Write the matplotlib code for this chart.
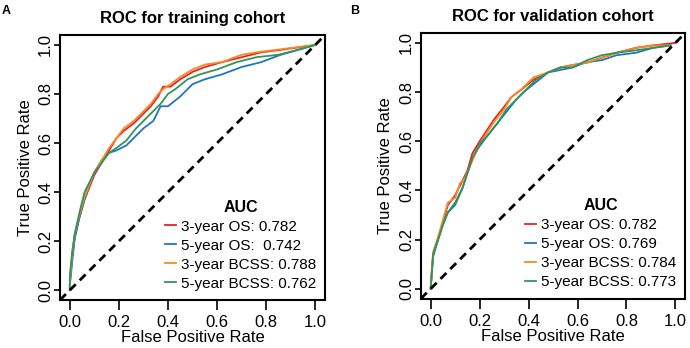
import matplotlib
matplotlib.use("Agg")
import matplotlib.pyplot as plt

plt.rcParams['font.family'] = ['Liberation Sans', 'DejaVu Sans']

# ---- data ----
colors = ["#EE1D23", "#1F75C0", "#F28C28", "#2F9656"]

# panel A: training cohort
a_labels = ["3-year OS: 0.782", "5-year OS:  0.742", "3-year BCSS: 0.788", "5-year BCSS: 0.762"]
a_fpr = [
    [0, 0.0, 0.01, 0.02, 0.04, 0.06, 0.08, 0.10, 0.13, 0.16, 0.19, 0.22, 0.26, 0.30, 0.33, 0.36, 0.38, 0.41, 0.45, 0.50, 0.55, 0.62, 0.70, 0.78, 0.86, 0.93, 1.0],
    [0, 0.0, 0.01, 0.02, 0.04, 0.06, 0.08, 0.10, 0.13, 0.16, 0.19, 0.23, 0.27, 0.30, 0.34, 0.37, 0.40, 0.45, 0.50, 0.55, 0.62, 0.70, 0.78, 0.86, 0.93, 1.0],
    [0, 0.0, 0.01, 0.02, 0.04, 0.06, 0.08, 0.10, 0.13, 0.16, 0.19, 0.22, 0.26, 0.30, 0.33, 0.36, 0.38, 0.41, 0.45, 0.50, 0.55, 0.62, 0.70, 0.76, 0.84, 0.92, 1.0],
    [0, 0.0, 0.01, 0.02, 0.04, 0.06, 0.08, 0.10, 0.13, 0.16, 0.19, 0.23, 0.27, 0.30, 0.34, 0.37, 0.40, 0.43, 0.48, 0.53, 0.60, 0.68, 0.76, 0.85, 0.93, 1.0],
]
a_tpr = [
    [0, 0.03, 0.14, 0.22, 0.30, 0.37, 0.42, 0.47, 0.52, 0.57, 0.62, 0.65, 0.68, 0.72, 0.75, 0.79, 0.83, 0.83, 0.86, 0.89, 0.91, 0.93, 0.95, 0.97, 0.98, 0.99, 1.0],
    [0, 0.02, 0.12, 0.21, 0.30, 0.37, 0.43, 0.48, 0.53, 0.56, 0.57, 0.59, 0.63, 0.66, 0.69, 0.75, 0.75, 0.79, 0.84, 0.86, 0.88, 0.91, 0.93, 0.96, 0.98, 1.0],
    [0, 0.04, 0.15, 0.23, 0.31, 0.38, 0.43, 0.48, 0.53, 0.58, 0.62, 0.66, 0.69, 0.73, 0.76, 0.80, 0.82, 0.84, 0.87, 0.90, 0.92, 0.93, 0.96, 0.97, 0.98, 0.99, 1.0],
    [0, 0.06, 0.16, 0.23, 0.32, 0.40, 0.44, 0.48, 0.52, 0.56, 0.58, 0.61, 0.66, 0.69, 0.73, 0.76, 0.80, 0.82, 0.86, 0.88, 0.90, 0.93, 0.95, 0.96, 0.98, 1.0],
]

# panel B: validation cohort
b_labels = ["3-year OS: 0.782", "5-year OS: 0.769", "3-year BCSS: 0.784", "5-year BCSS: 0.773"]
b_fpr = [
    [0, 0.005, 0.01, 0.03, 0.05, 0.07, 0.10, 0.13, 0.15, 0.17, 0.20, 0.22, 0.26, 0.30, 0.33, 0.37, 0.42, 0.48, 0.53, 0.58, 0.64, 0.70, 0.76, 0.84, 0.91, 1.0],
    [0, 0.005, 0.01, 0.03, 0.05, 0.07, 0.10, 0.13, 0.15, 0.17, 0.20, 0.23, 0.27, 0.31, 0.35, 0.38, 0.43, 0.48, 0.53, 0.58, 0.63, 0.70, 0.76, 0.84, 0.91, 0.98],
    [0, 0.005, 0.01, 0.03, 0.05, 0.07, 0.10, 0.12, 0.14, 0.17, 0.20, 0.22, 0.26, 0.30, 0.33, 0.37, 0.42, 0.48, 0.53, 0.58, 0.64, 0.70, 0.76, 0.84, 0.91, 0.98],
    [0, 0.005, 0.01, 0.03, 0.05, 0.07, 0.10, 0.13, 0.15, 0.17, 0.20, 0.23, 0.27, 0.31, 0.35, 0.38, 0.43, 0.48, 0.53, 0.58, 0.64, 0.70, 0.76, 0.84, 0.91, 0.98],
]
b_tpr = [
    [0, 0.08, 0.14, 0.20, 0.27, 0.34, 0.38, 0.44, 0.48, 0.55, 0.60, 0.63, 0.69, 0.74, 0.78, 0.81, 0.85, 0.88, 0.90, 0.91, 0.92, 0.94, 0.96, 0.98, 0.99, 1.0],
    [0, 0.07, 0.13, 0.20, 0.26, 0.31, 0.35, 0.41, 0.47, 0.53, 0.58, 0.62, 0.67, 0.72, 0.77, 0.80, 0.84, 0.88, 0.89, 0.90, 0.92, 0.93, 0.95, 0.96, 0.98, 0.99],
    [0, 0.08, 0.15, 0.21, 0.28, 0.35, 0.37, 0.43, 0.45, 0.52, 0.59, 0.62, 0.68, 0.73, 0.78, 0.81, 0.86, 0.88, 0.90, 0.91, 0.92, 0.94, 0.96, 0.98, 0.99, 0.99],
    [0, 0.07, 0.14, 0.20, 0.26, 0.31, 0.34, 0.41, 0.47, 0.53, 0.59, 0.62, 0.67, 0.73, 0.77, 0.80, 0.85, 0.88, 0.90, 0.90, 0.93, 0.95, 0.96, 0.97, 0.98, 0.99],
]

ticks = [0.0, 0.2, 0.4, 0.6, 0.8, 1.0]
tick_labels = ["0.0", "0.2", "0.4", "0.6", "0.8", "1.0"]

fig = plt.figure(figsize=(6.9, 3.48), dpi=100)
ax_a = fig.add_axes([0.087, 0.138, 0.384, 0.761])
ax_b = fig.add_axes([0.610, 0.142, 0.383, 0.763])


def draw_panel(ax, fprs, tprs, labels, title):
    for x, y, c, lab in zip(fprs, tprs, colors, labels):
        ax.plot(x, y, color=c, lw=1.3, label=lab)
    ax.axline((0, 0), (1, 1), color="black", lw=2, ls=(0, (3, 2)))
    ax.set_xlim(-0.04, 1.04)
    ax.set_ylim(-0.04, 1.04)
    ax.set_xticks(ticks)
    ax.set_xticklabels(tick_labels)
    ax.set_yticks(ticks)
    ax.set_yticklabels(tick_labels, rotation=90, va="center")
    ax.tick_params(direction="out", width=1.2, labelsize=12, colors="black")
    ax.tick_params(axis="x", length=7, pad=4)
    ax.tick_params(axis="y", length=4, pad=1)
    for s in ax.spines.values():
        s.set_linewidth(1.5)
    ax.set_xlabel("False Positive Rate", fontsize=12, labelpad=0)
    ax.set_ylabel("True Positive Rate", fontsize=12, labelpad=4)
    ax.set_title(title, fontsize=12, fontweight="bold", pad=9)
    leg = ax.legend(title="AUC", loc="lower right", frameon=False, fontsize=11,
                    handlelength=0.7, handletextpad=0.3, labelspacing=0.33,
                    borderaxespad=0.2, bbox_to_anchor=(1.0, 0.0))
    leg.get_title().set_fontweight("bold")
    leg.get_title().set_fontsize(11.5)


draw_panel(ax_a, a_fpr, a_tpr, a_labels, "ROC for training cohort")
draw_panel(ax_b, b_fpr, b_tpr, b_labels, "ROC for validation cohort")

fig.text(0.003, 0.985, "A", fontsize=9, fontweight="bold", va="top")
fig.text(0.507, 0.985, "B", fontsize=9, fontweight="bold", va="top")

fig.savefig("out.png", dpi=100)
